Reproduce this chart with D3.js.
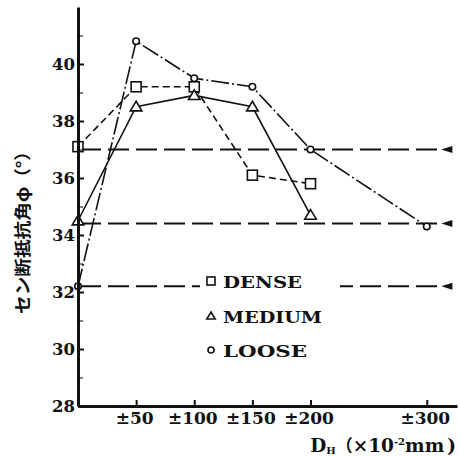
<!DOCTYPE html>
<html>
<head>
<meta charset="utf-8">
<script src="https://cdn.jsdelivr.net/npm/d3@7"></script>
<style>
  body { margin: 0; background: #fff; }
  svg { display: block; }
  .tick text { font-family: "DejaVu Serif", serif; font-weight: bold; fill: #111; }
</style>
</head>
<body>
<script>
// data
const xVals = [0, 50, 100, 150, 200];
const dense = [37.1, 39.2, 39.2, 36.1, 35.8];
const medium = [34.5, 38.5, 38.9, 38.5, 34.7];
const looseX = [0, 50, 100, 150, 200, 300];
const loose = [32.2, 40.8, 39.5, 39.2, 37.0, 34.3];
const refLines = [37.0, 34.4, 32.2];
const xTicks = [50, 100, 150, 200, 300];
const xTickLabels = ["±50", "±100", "±150", "±200", "±300"];
const yTicks = [28, 30, 32, 34, 36, 38, 40];
const yMinor = [29, 31, 33, 35, 37, 39, 41];
const legendNames = ["DENSE", "MEDIUM", "LOOSE"];

const w = 460;
const h = 456;

const xScale = d3.scaleLinear().domain([0, 326]).range([78, 457]);
const yScale = d3.scaleLinear().domain([28, 42]).range([406, 7]);

const svg = d3.select("body")
  .append("svg")
  .attr("width", w)
  .attr("height", h);

// horizontal reference lines with wedge ends
const refG = svg.append("g");
refLines.forEach((v) => {
  const yy = yScale(v);
  refG.append("line")
    .attr("x1", xScale(0) + 2).attr("x2", xScale(315))
    .attr("y1", yy).attr("y2", yy)
    .attr("stroke", "#111").attr("stroke-width", 2)
    .attr("stroke-dasharray", "21,7");
  const xe = xScale(322);
  refG.append("path")
    .attr("d", `M${xe - 11},${yy} L${xe},${yy - 3.5} L${xe},${yy + 3.5} Z`)
    .attr("fill", "#111");
});

// series
const series = [
  { name: "DENSE", xs: xVals, ys: dense, dash: "7,4", marker: "square" },
  { name: "MEDIUM", xs: xVals, ys: medium, dash: null, marker: "triangle" },
  { name: "LOOSE", xs: looseX, ys: loose, dash: "18,3,2,3", marker: "circle" }
];

const line = d3.line()
  .x((d) => xScale(d[0]))
  .y((d) => yScale(d[1]));

series.forEach((s) => {
  const pts = s.xs.map((x, i) => [x, s.ys[i]]);
  svg.append("path")
    .datum(pts)
    .attr("d", line)
    .attr("fill", "none")
    .attr("stroke", "#111")
    .attr("stroke-width", 1.6)
    .attr("stroke-dasharray", s.dash);
  s.pts = pts;
});

function drawMarker(g, type, cx, cy, size) {
  if (type === "square") {
    g.append("rect")
      .attr("x", cx - size / 2).attr("y", cy - size / 2)
      .attr("width", size).attr("height", size)
      .attr("fill", "#fff").attr("stroke", "#111").attr("stroke-width", 1.6);
  } else if (type === "triangle") {
    const r = size / 2;
    g.append("path")
      .attr("d", `M${cx},${cy - r} L${cx + r * 1.05},${cy + r * 0.75} L${cx - r * 1.05},${cy + r * 0.75} Z`)
      .attr("fill", "#fff").attr("stroke", "#111").attr("stroke-width", 1.6);
  } else {
    g.append("circle")
      .attr("cx", cx).attr("cy", cy).attr("r", size / 2)
      .attr("fill", "#fff").attr("stroke", "#111").attr("stroke-width", 1.6);
  }
}

const markG = svg.append("g");
series.forEach((s) => {
  const size = s.marker === "square" ? 10 : s.marker === "triangle" ? 11 : 6.5;
  s.pts.forEach((p) => drawMarker(markG, s.marker, xScale(p[0]), yScale(p[1]), size));
});

// axes
const yAxis = d3.axisLeft(yScale)
  .tickValues(yTicks)
  .tickSize(-6)
  .tickSizeOuter(0)
  .tickPadding(3)
  .tickFormat(d3.format("d"));

const yG = svg.append("g")
  .attr("transform", `translate(${xScale(0)}, 0)`)
  .call(yAxis);
yG.selectAll(".tick text").style("font-size", "16.5px");

svg.append("g")
  .attr("transform", `translate(${xScale(0)}, 0)`)
  .call(d3.axisLeft(yScale).tickValues(yMinor).tickSize(-5).tickSizeOuter(0).tickFormat(""))
  .select(".domain").remove();

const xAxis = d3.axisBottom(xScale)
  .tickValues(xTicks)
  .tickSize(-6)
  .tickSizeOuter(0)
  .tickPadding(6)
  .tickFormat((d, i) => xTickLabels[i]);

const xG = svg.append("g")
  .attr("transform", `translate(0, ${yScale(28)})`)
  .call(xAxis);
xG.selectAll(".tick text").style("font-size", "17px").attr("dx", -2);

[yG, xG].forEach((g) => {
  g.select(".domain").attr("stroke", "#111").attr("stroke-width", 3);
  g.selectAll(".tick line").attr("stroke", "#111").attr("stroke-width", 2);
});

// legend
const legend = svg.append("g");
legend.append("rect")
  .attr("x", 200).attr("y", 268).attr("width", 140).attr("height", 100)
  .attr("fill", "#fff");
const legendY = [281, 316, 350];
const legendW = [79, 99, 84];
const legendMarks = ["square", "triangle", "circle"];
legendNames.forEach((n, i) => {
  drawMarker(legend, legendMarks[i], 211, legendY[i], legendMarks[i] === "circle" ? 6 : 8);
  legend.append("text")
    .attr("x", 223).attr("y", legendY[i] + 7)
    .attr("font-family", "DejaVu Serif, serif")
    .attr("font-weight", "bold")
    .attr("font-size", 17)
    .attr("textLength", legendW[i])
    .attr("lengthAdjust", "spacingAndGlyphs")
    .attr("fill", "#111")
    .text(n);
});

// axis titles
svg.append("text")
  .attr("transform", "translate(29, 228) rotate(-90)")
  .attr("text-anchor", "middle")
  .attr("font-family", "Noto Sans CJK JP, sans-serif")
  .attr("font-weight", "bold")
  .attr("font-size", 17)
  .attr("textLength", 172)
  .attr("lengthAdjust", "spacingAndGlyphs")
  .attr("fill", "#111")
  .text("セン断抵抗角φ（°）");

const xt = svg.append("text")
  .attr("x", 456).attr("y", 452)
  .attr("text-anchor", "end")
  .attr("font-family", "DejaVu Serif, serif")
  .attr("font-weight", "bold")
  .attr("font-size", 18.5)
  .attr("fill", "#111");
xt.append("tspan").text("D");
xt.append("tspan").attr("font-size", 10).attr("dy", 2).text("H");
xt.append("tspan").attr("dy", -2).attr("font-family", "Noto Sans CJK JP").attr("font-size", 17).text("（");
xt.append("tspan").text("×10");
xt.append("tspan").attr("font-size", 10).attr("dy", -7).text("-2");
xt.append("tspan").attr("dy", 7).text("mm");
xt.append("tspan").attr("dx", 3).text(")");
</script>
</body>
</html>
